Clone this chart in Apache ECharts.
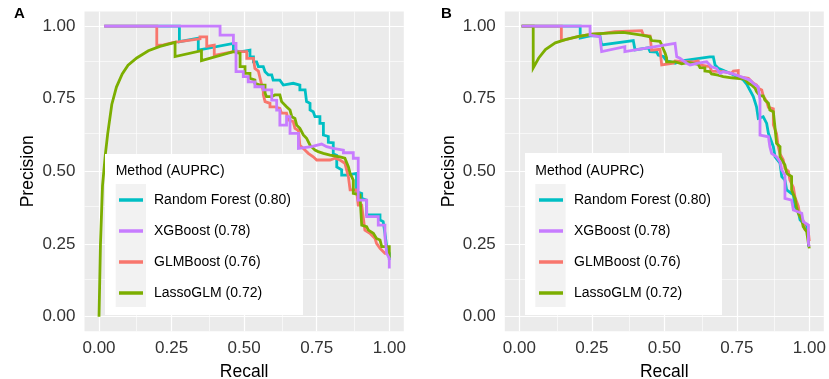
<!DOCTYPE html>
<html><head><meta charset="utf-8">
<script src="https://cdn.jsdelivr.net/npm/echarts@6/dist/echarts.min.js"></script>
<style>html,body{margin:0;padding:0;background:#fff}#c{width:829px;height:379px}</style>
</head><body><div id="c"></div>
<script>
// ---- data (recall, precision) ----
const methods = ['Random Forest (0.80)', 'XGBoost (0.78)', 'GLMBoost (0.76)', 'LassoGLM (0.72)'];
const colors = ['#00BFC4', '#C77CFF', '#F8766D', '#7CAE00'];
const tickValues = [0, 0.25, 0.5, 0.75, 1];
const minorValues = [0.125, 0.375, 0.625, 0.875];

const A_RF = [[0.018,1.0],[0.277,1.0],[0.277,0.946],[0.342,0.958],[0.342,0.917],[0.463,0.940],[0.463,0.917],[0.486,0.911],[0.520,0.917],[0.520,0.894],[0.532,0.894],[0.532,0.877],[0.543,0.877],[0.549,0.860],[0.566,0.860],[0.572,0.843],[0.583,0.832],[0.595,0.832],[0.600,0.814],[0.623,0.814],[0.635,0.797],[0.669,0.803],[0.692,0.797],[0.692,0.780],[0.710,0.780],[0.715,0.740],[0.727,0.734],[0.727,0.711],[0.738,0.705],[0.744,0.688],[0.761,0.688],[0.761,0.665],[0.773,0.665],[0.773,0.625],[0.790,0.620],[0.790,0.600],[0.807,0.598],[0.807,0.560],[0.819,0.555],[0.819,0.515],[0.836,0.505],[0.836,0.487],[0.853,0.487],[0.887,0.493],[0.887,0.430],[0.905,0.424],[0.905,0.407],[0.922,0.401],[0.922,0.350],[0.968,0.350],[0.968,0.333],[0.979,0.327],[0.985,0.287],[0.991,0.241],[1.0,0.218],[1.0,0.195]];
const A_XGB = [[0.018,1.0],[0.417,1.0],[0.417,0.969],[0.463,0.969],[0.463,0.940],[0.472,0.940],[0.472,0.843],[0.497,0.843],[0.497,0.826],[0.514,0.826],[0.514,0.808],[0.537,0.808],[0.537,0.791],[0.566,0.791],[0.566,0.780],[0.595,0.780],[0.595,0.745],[0.612,0.745],[0.612,0.711],[0.623,0.711],[0.623,0.659],[0.646,0.659],[0.646,0.688],[0.658,0.688],[0.658,0.631],[0.687,0.631],[0.687,0.579],[0.732,0.585],[0.767,0.594],[0.784,0.585],[0.807,0.579],[0.842,0.573],[0.842,0.564],[0.876,0.564],[0.876,0.545],[0.893,0.545],[0.893,0.401],[0.922,0.401],[0.922,0.344],[0.962,0.344],[0.962,0.315],[0.985,0.315],[0.985,0.275],[0.991,0.275],[0.991,0.218],[1.0,0.201],[1.0,0.166]];
const A_GLM = [[0.018,1.0],[0.199,1.0],[0.199,0.933],[0.222,0.935],[0.258,0.944],[0.277,0.946],[0.348,0.956],[0.348,0.963],[0.371,0.963],[0.371,0.930],[0.397,0.934],[0.397,0.899],[0.463,0.912],[0.509,0.912],[0.509,0.889],[0.532,0.889],[0.537,0.854],[0.549,0.845],[0.555,0.820],[0.560,0.800],[0.566,0.775],[0.566,0.763],[0.572,0.740],[0.589,0.734],[0.589,0.722],[0.606,0.722],[0.623,0.717],[0.629,0.700],[0.646,0.700],[0.652,0.677],[0.669,0.671],[0.675,0.648],[0.687,0.640],[0.692,0.590],[0.704,0.579],[0.721,0.562],[0.738,0.550],[0.750,0.539],[0.796,0.539],[0.813,0.545],[0.830,0.539],[0.847,0.528],[0.859,0.482],[0.865,0.436],[0.887,0.436],[0.893,0.384],[0.905,0.384],[0.916,0.298],[0.933,0.287],[0.951,0.269],[0.956,0.252],[0.968,0.235],[0.985,0.218],[1.0,0.218]];
const A_LASSO = [[0,0],[0.005,0.25],[0.012,0.45],[0.022,0.56],[0.030,0.63],[0.044,0.73],[0.060,0.79],[0.080,0.835],[0.100,0.865],[0.130,0.890],[0.170,0.915],[0.210,0.930],[0.262,0.944],[0.262,0.895],[0.353,0.915],[0.353,0.881],[0.463,0.912],[0.486,0.906],[0.486,0.860],[0.503,0.860],[0.503,0.837],[0.520,0.837],[0.520,0.820],[0.537,0.814],[0.537,0.803],[0.555,0.797],[0.572,0.797],[0.572,0.770],[0.577,0.757],[0.595,0.757],[0.606,0.763],[0.623,0.763],[0.629,0.740],[0.646,0.722],[0.658,0.711],[0.664,0.688],[0.675,0.682],[0.681,0.659],[0.692,0.648],[0.704,0.625],[0.715,0.614],[0.727,0.590],[0.744,0.573],[0.755,0.568],[0.773,0.562],[0.796,0.556],[0.830,0.550],[0.847,0.545],[0.859,0.516],[0.865,0.493],[0.876,0.470],[0.876,0.424],[0.899,0.419],[0.905,0.315],[0.922,0.310],[0.928,0.298],[0.945,0.287],[0.956,0.269],[0.968,0.264],[0.974,0.241],[1.0,0.241],[1.0,0.201]];

const B_RF = [[0.008,1.0],[0.210,1.0],[0.210,0.959],[0.244,0.966],[0.278,0.966],[0.284,0.935],[0.393,0.950],[0.399,0.918],[0.445,0.925],[0.451,0.912],[0.474,0.910],[0.479,0.900],[0.497,0.895],[0.508,0.880],[0.520,0.878],[0.537,0.872],[0.560,0.880],[0.657,0.894],[0.669,0.894],[0.675,0.866],[0.686,0.855],[0.703,0.848],[0.732,0.835],[0.755,0.825],[0.772,0.815],[0.784,0.800],[0.795,0.780],[0.807,0.757],[0.818,0.722],[0.824,0.682],[0.841,0.688],[0.853,0.665],[0.859,0.631],[0.876,0.585],[0.882,0.550],[0.899,0.528],[0.905,0.482],[0.916,0.470],[0.922,0.436],[0.945,0.419],[0.951,0.378],[0.962,0.361],[0.968,0.333],[0.985,0.315],[0.991,0.304],[0.997,0.275],[0.997,0.241]];
const B_XGB = [[0.008,1.0],[0.244,1.0],[0.244,0.969],[0.278,0.963],[0.284,0.912],[0.364,0.929],[0.364,0.912],[0.537,0.940],[0.543,0.894],[0.554,0.889],[0.577,0.872],[0.589,0.866],[0.617,0.872],[0.646,0.877],[0.663,0.860],[0.680,0.854],[0.692,0.837],[0.703,0.843],[0.732,0.837],[0.749,0.831],[0.795,0.814],[0.807,0.803],[0.824,0.791],[0.830,0.745],[0.830,0.625],[0.859,0.619],[0.864,0.585],[0.870,0.562],[0.887,0.550],[0.899,0.533],[0.905,0.505],[0.916,0.487],[0.916,0.407],[0.939,0.401],[0.945,0.367],[0.974,0.356],[0.979,0.327],[0.997,0.315],[0.997,0.252],[1.0,0.241]];
const B_GLM = [[0.008,1.0],[0.145,1.0],[0.145,0.950],[0.159,0.953],[0.205,0.964],[0.251,0.972],[0.290,0.975],[0.330,0.981],[0.422,0.984],[0.428,0.969],[0.451,0.966],[0.456,0.917],[0.485,0.920],[0.491,0.866],[0.531,0.872],[0.537,0.880],[0.560,0.878],[0.600,0.877],[0.617,0.880],[0.623,0.866],[0.657,0.860],[0.663,0.845],[0.703,0.843],[0.732,0.837],[0.738,0.845],[0.755,0.847],[0.755,0.826],[0.790,0.820],[0.807,0.803],[0.818,0.797],[0.824,0.786],[0.836,0.780],[0.841,0.760],[0.853,0.740],[0.859,0.720],[0.876,0.715],[0.876,0.660],[0.887,0.630],[0.893,0.585],[0.899,0.560],[0.910,0.540],[0.916,0.510],[0.928,0.500],[0.933,0.470],[0.945,0.445],[0.951,0.410],[0.962,0.380],[0.968,0.345],[0.979,0.330],[0.985,0.300],[0.997,0.290],[1.0,0.260]];
const B_LASSO = [[0.008,1.0],[0.048,1.0],[0.048,0.856],[0.067,0.890],[0.090,0.919],[0.124,0.942],[0.159,0.953],[0.205,0.964],[0.251,0.972],[0.290,0.975],[0.359,0.978],[0.364,0.974],[0.422,0.969],[0.451,0.963],[0.456,0.950],[0.485,0.947],[0.491,0.935],[0.497,0.920],[0.503,0.906],[0.508,0.890],[0.508,0.877],[0.537,0.877],[0.543,0.872],[0.560,0.870],[0.583,0.875],[0.617,0.868],[0.623,0.857],[0.640,0.856],[0.640,0.845],[0.657,0.843],[0.663,0.835],[0.686,0.831],[0.703,0.826],[0.732,0.822],[0.778,0.817],[0.790,0.803],[0.801,0.797],[0.813,0.786],[0.818,0.775],[0.830,0.760],[0.841,0.760],[0.847,0.745],[0.859,0.734],[0.864,0.711],[0.876,0.705],[0.882,0.648],[0.887,0.596],[0.899,0.585],[0.899,0.550],[0.916,0.522],[0.922,0.493],[0.939,0.482],[0.939,0.436],[0.951,0.407],[0.956,0.378],[0.962,0.356],[0.974,0.333],[0.979,0.310],[0.991,0.292],[0.997,0.252],[1.0,0.235]];

const panelData = [[A_RF, A_XGB, A_GLM, A_LASSO], [B_RF, B_XGB, B_GLM, B_LASSO]];
const panelLabels = ['A', 'B'];

// ---- layout ----
const FONT = '"Liberation Sans", Arial, sans-serif';
const grids = [
  {left: 84.5, top: 11.5, width: 319.3, height: 319.7},
  {left: 504.8, top: 11.5, width: 319.0, height: 319.7}
];
const legendBoxes = [
  {box: [105, 154, 198, 161], key: [115.7, 184, 30.3, 123], title: [115.7, 171], legend: [119, 190]},
  {box: [525, 153, 197, 162], key: [535.3, 184, 30.3, 123], title: [535.3, 171], legend: [539, 190]}
];
const fmt = v => v.toFixed(2);

const option = {
  animation: false,
  backgroundColor: '#fff',
  textStyle: {fontFamily: FONT},
  title: panelLabels.map((t, i) => ({
    text: t, left: i === 0 ? 9 : 436, top: 1,
    textStyle: {fontFamily: FONT, fontWeight: 'bold', fontSize: 15, color: '#000'}
  })),
  grid: grids.map(g => Object.assign({show: true, backgroundColor: '#EBEBEB', borderWidth: 0, containLabel: false, outerBoundsMode: 'none'}, g)),
  xAxis: grids.map((g, i) => ({
    type: 'value', gridIndex: i, min: -0.05, max: 1.05,
    name: 'Recall', nameLocation: 'middle', nameGap: 32,
    nameTextStyle: {fontFamily: FONT, fontSize: 17.5, color: '#000'},
    axisLine: {show: false},
    axisTick: {show: true, length: 4, customValues: tickValues, lineStyle: {color: '#333', width: 1}},
    axisLabel: {customValues: tickValues, formatter: fmt, margin: 9, fontFamily: FONT, fontSize: 17, color: '#333'},
    splitLine: {show: false}
  })),
  yAxis: grids.map((g, i) => ({
    type: 'value', gridIndex: i, min: -0.05, max: 1.05,
    name: 'Precision', nameLocation: 'middle', nameGap: 47,
    nameTextStyle: {fontFamily: FONT, fontSize: 17.5, color: '#000'},
    axisLine: {show: false},
    axisTick: {show: true, length: 4, customValues: tickValues, lineStyle: {color: '#333', width: 1}},
    axisLabel: {customValues: tickValues, formatter: fmt, margin: 9, fontFamily: FONT, fontSize: 17, color: '#333'},
    splitLine: {show: false}
  })),
  legend: legendBoxes.map((lb, i) => ({
    data: methods, orient: 'vertical', left: lb.legend[0], top: lb.legend[1],
    padding: 0, itemGap: 11, itemWidth: 24, itemHeight: 3.5, icon: 'rect',
    selectedMode: false, z: 20,
    textStyle: {fontFamily: FONT, fontSize: 14, color: '#000', lineHeight: 20, padding: [0, 0, 0, 6]}
  })),
  graphic: {
    elements: legendBoxes.flatMap(lb => [
      {type: 'rect', z: 10, silent: true, shape: {x: lb.box[0], y: lb.box[1], width: lb.box[2], height: lb.box[3]}, style: {fill: '#fff'}},
      {type: 'rect', z: 11, silent: true, shape: {x: lb.key[0], y: lb.key[1], width: lb.key[2], height: lb.key[3]}, style: {fill: '#F2F2F2'}},
      {type: 'text', z: 11, silent: true, x: lb.title[0], y: lb.title[1], style: {text: 'Method (AUPRC)', font: '14px ' + FONT, fill: '#000', verticalAlign: 'middle'}}
    ])
  },
  series: []
};

// grid lines via markLine on an empty helper series
grids.forEach((g, i) => {
  const lines = [];
  minorValues.forEach(v => { lines.push({xAxis: v, lineStyle: {width: 0.6}}); lines.push({yAxis: v, lineStyle: {width: 0.6}}); });
  tickValues.forEach(v => { lines.push({xAxis: v, lineStyle: {width: 1.2}}); lines.push({yAxis: v, lineStyle: {width: 1.2}}); });
  option.series.push({
    type: 'line', xAxisIndex: i, yAxisIndex: i, data: [], z: 1, silent: true,
    markLine: {silent: true, z: 1, symbol: ['none', 'none'], label: {show: false}, animation: false,
      lineStyle: {color: '#fff', type: 'solid'}, data: lines}
  });
});

// curves: draw order cyan, red, green, purple (purple on top)
const drawOrder = [0, 2, 3, 1];
panelData.forEach((curves, p) => {
  drawOrder.forEach((m, k) => {
    option.series.push({
      name: methods[m], type: 'line', xAxisIndex: p, yAxisIndex: p,
      data: curves[m], showSymbol: false, symbol: 'none', z: 2 + k * 0.1, silent: true,
      lineStyle: {color: colors[m], width: 2.8, cap: 'butt', join: 'miter'},
      itemStyle: {color: colors[m]}
    });
  });
});

const chart = echarts.init(document.getElementById('c'), null, {renderer: 'canvas'});
chart.setOption(option);
</script></body></html>
